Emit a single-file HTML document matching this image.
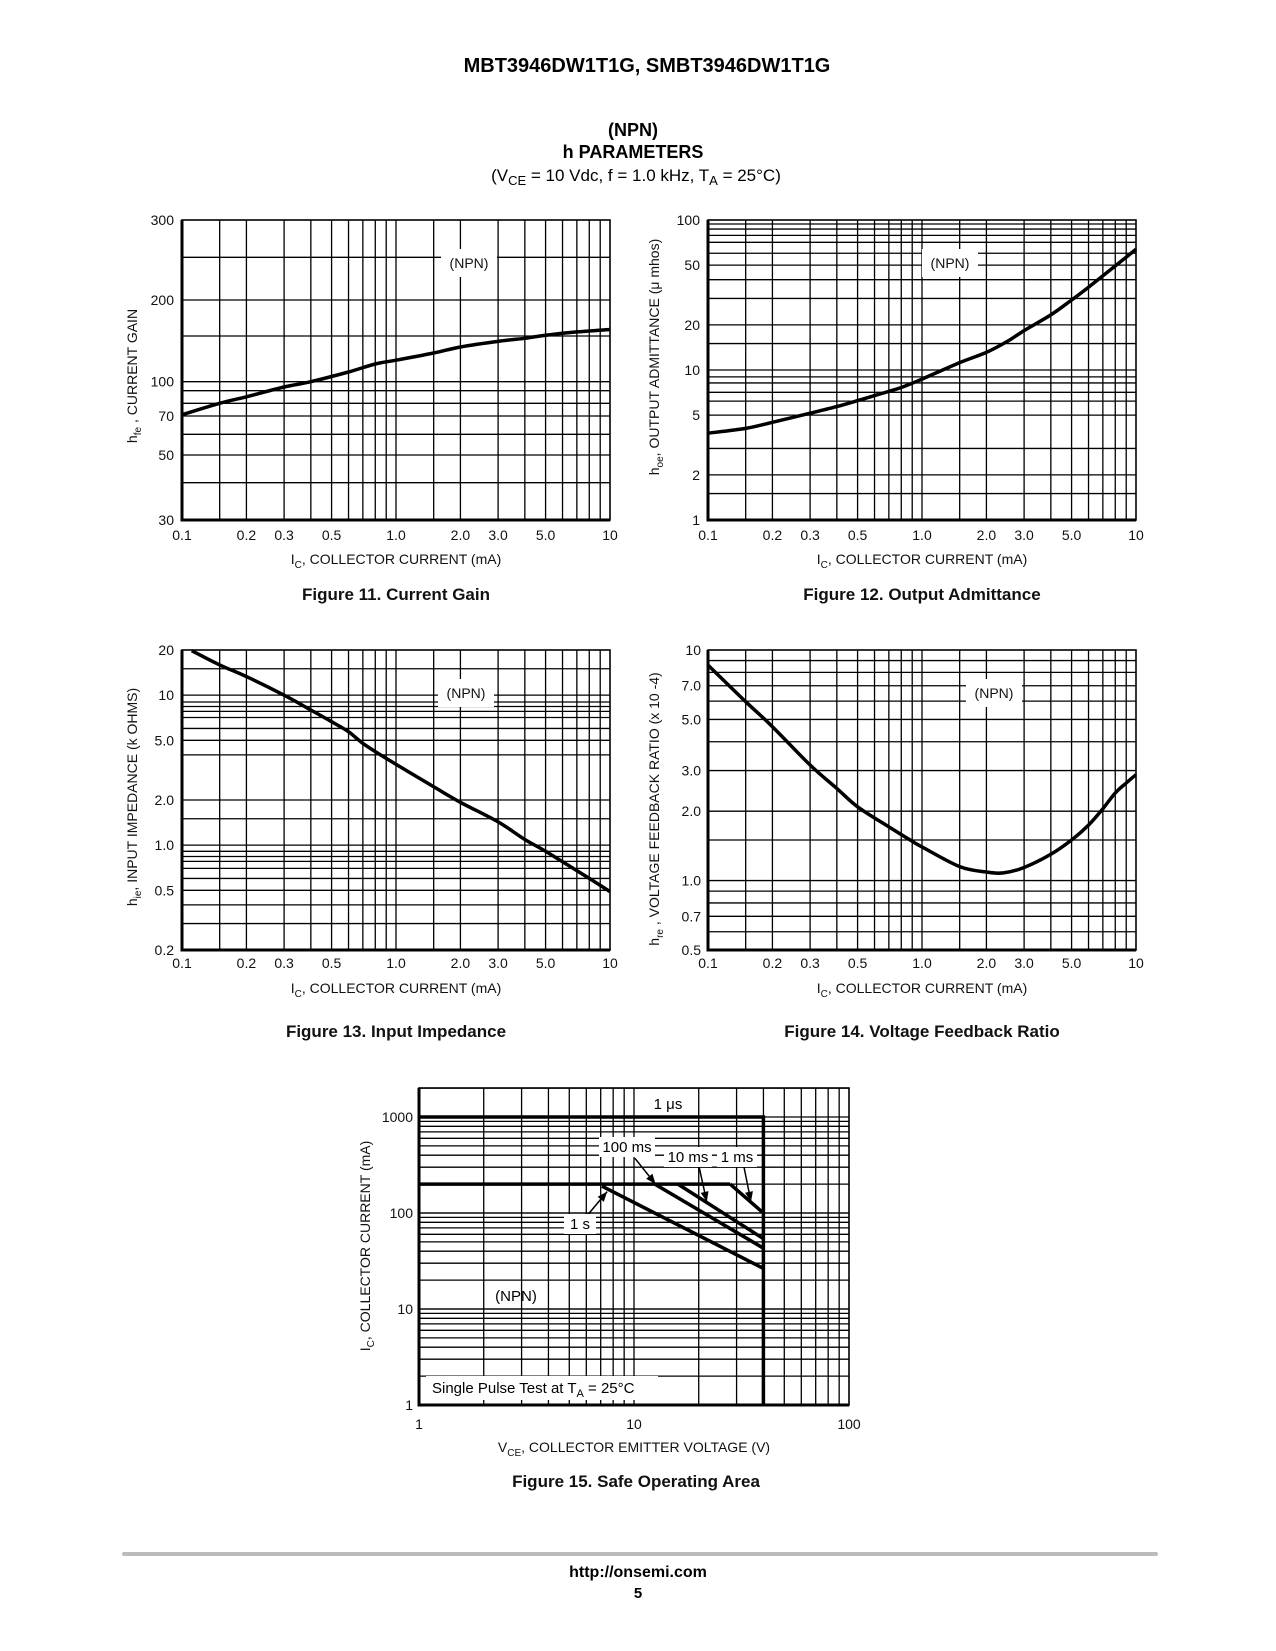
<!DOCTYPE html>
<html><head><meta charset="utf-8">
<style>
html,body{margin:0;padding:0;background:#fff;}
svg{display:block;font-family:"Liberation Sans",Arial,sans-serif;}
.tk{font-size:14px;fill:#111;}
.at{font-size:14px;fill:#111;}
.ft{font-size:17px;font-weight:bold;fill:#111;}
</style></head>
<body>
<svg id="page" width="1276" height="1651" viewBox="0 0 1276 1651" xmlns="http://www.w3.org/2000/svg">
<text x="647" y="72" text-anchor="middle" font-size="20" font-weight="bold">MBT3946DW1T1G, SMBT3946DW1T1G</text>
<text x="633" y="136" text-anchor="middle" font-size="18" font-weight="bold">(NPN)</text>
<text x="633" y="158" text-anchor="middle" font-size="18" font-weight="bold">h PARAMETERS</text>
<text x="636" y="181" text-anchor="middle" font-size="17">(V<tspan font-size="13" dy="4">CE</tspan><tspan dy="-4"> = 10 Vdc, f = 1.0 kHz, T</tspan><tspan font-size="13" dy="4">A</tspan><tspan dy="-4"> = 25°C)</tspan></text>

<g id="f11"></g>
<g id="f12"></g>
<g id="f13"></g>
<g id="f14"></g>
<g id="f15"></g>

<text class="ft" x="396" y="600" text-anchor="middle">Figure 11. Current Gain</text>
<text class="ft" x="922" y="600" text-anchor="middle">Figure 12. Output Admittance</text>
<text class="ft" x="396" y="1037" text-anchor="middle">Figure 13. Input Impedance</text>
<text class="ft" x="922" y="1037" text-anchor="middle">Figure 14. Voltage Feedback Ratio</text>
<text class="ft" x="636" y="1487" text-anchor="middle">Figure 15. Safe Operating Area</text>

<rect x="122" y="1552" width="1036" height="4" fill="#bbb" rx="2"/>
<text x="638" y="1577" text-anchor="middle" font-size="16" font-weight="bold">http://onsemi.com</text>
<text x="638" y="1598" text-anchor="middle" font-size="15" font-weight="bold">5</text>
</svg>

<script>
// ---------- data ----------
const xTickLabels = ["0.1","0.2","0.3","0.5","1.0","2.0","3.0","5.0","10"];
const xTickValues = [0.1,0.2,0.3,0.5,1,2,3,5,10];
const xGridValues = [0.15,0.2,0.3,0.4,0.5,0.6,0.7,0.8,0.9,1,1.5,2,3,4,5,6,7,8,9];

const f11Ic = [0.1,0.15,0.2,0.3,0.4,0.6,0.8,1,1.5,2,3,4,5,7,10];
const f11Hfe = [71,80,85,94,100,109,117,121,129,136,143,147,151,155,158];
const f11YTickValues = [300,200,100,70,50,30];
const f11YGrid = [250,200,150,100,90,80,70,60,50,40];

const f12Ic = [0.1,0.15,0.2,0.3,0.4,0.5,0.6,0.8,1,1.5,2,2.5,3,4,5,6,10];
const f12Hoe = [3.79,4.08,4.48,5.15,5.7,6.25,6.75,7.65,8.7,11.2,13.1,15.5,18.3,23.3,29.3,35.6,63.8];
const f12YTickValues = [100,50,20,10,5,2,1];
const f12YGrid = [94,87,79,71,60,50,40,30,20,15,10,9,8.2,7.1,6.2,5,3,2,1.5];

const f13Ic = [0.111,0.15,0.2,0.3,0.4,0.5,0.6,0.7,0.9,1.5,2,3,4,5,8,10];
const f13Hie = [19.8,15.9,13.3,10,7.96,6.65,5.71,4.77,3.79,2.45,1.93,1.43,1.09,0.91,0.6,0.49];
const f13YTickLabels = ["20","10","5.0","2.0","1.0","0.5","0.2"];
const f13YTickValues = [20,10,5,2,1,0.5,0.2];
const f13YGrid = [15,10,9,8.4,7.8,7.1,6,5,4,2,1.5,1,0.91,0.84,0.78,0.7,0.6,0.5,0.4,0.3];

const f14Ic = [0.1,0.15,0.2,0.3,0.4,0.5,0.7,0.9,1,1.5,2,2.4,3,4,5,6,7,8,9,10];
const f14Hre = [8.6,5.97,4.65,3.17,2.51,2.09,1.71,1.48,1.4,1.15,1.09,1.08,1.14,1.3,1.5,1.74,2.05,2.4,2.65,2.88];
const f14YTickLabels = ["10","7.0","5.0","3.0","2.0","1.0","0.7","0.5"];
const f14YTickValues = [10,7,5,3,2,1,0.7,0.5];
const f14YGrid = [9,8,7,6,5,4,3,2,1.5,1,0.9,0.8,0.7,0.6];

const soaXTickLabels = ["1","10","100"];
const soaXTickValues = [1,10,100];
const soaYTickLabels = ["1000","100","10","1"];
const soaYTickValues = [1000,100,10,1];
const soa1usV = [1,40,40];
const soa1usI = [1000,1000,1];
const soaDcLimitV = [1,28];
const soaDcLimitI = [200,200];
const soa1msV = [28,40];
const soa1msI = [200,100];
const soa10msV = [16,40];
const soa10msI = [200,54];
const soa100msV = [12.5,40];
const soa100msI = [200,43];
const soa1sV = [7.1,40];
const soa1sI = [190,26.5];
const soaArrowLabels = ["100 ms","10 ms","1 ms","1 s"];
const soaArrowTailV = [10.1,20.1,32.5,6.03];
const soaArrowTailI = [371,299,299,93];
const soaArrowTipV = [12.6,21.8,35,7.5];
const soaArrowTipI = [200,131,131,167];

// ---------- helpers ----------
const NS="http://www.w3.org/2000/svg";
function el(parent,tag,attrs,text){const e=document.createElementNS(NS,tag);for(const k in attrs)e.setAttribute(k,attrs[k]);if(text!==undefined)e.textContent=text;parent.appendChild(e);return e;}
function logScale(d0,d1,r0,r1){const a=Math.log10(d0),b=Math.log10(d1);return v=>r0+(Math.log10(v)-a)/(b-a)*(r1-r0);}
function knotScale(vals,pos){return v=>{const lv=Math.log10(v);for(let i=0;i<vals.length-1;i++){const a=Math.log10(vals[i]),b=Math.log10(vals[i+1]);if((lv<=a&&lv>=b)||i===vals.length-2){return pos[i]+(lv-a)/(b-a)*(pos[i+1]-pos[i]);}}return pos[0];};}
function smoothPath(pts){let d="M"+pts[0][0].toFixed(1)+","+pts[0][1].toFixed(1);for(let i=0;i<pts.length-1;i++){const p0=pts[Math.max(0,i-1)],p1=pts[i],p2=pts[i+1],p3=pts[Math.min(pts.length-1,i+2)];const c1=[p1[0]+(p2[0]-p0[0])/6,p1[1]+(p2[1]-p0[1])/6],c2=[p2[0]-(p3[0]-p1[0])/6,p2[1]-(p3[1]-p1[1])/6];d+=" C"+c1[0].toFixed(1)+","+c1[1].toFixed(1)+" "+c2[0].toFixed(1)+","+c2[1].toFixed(1)+" "+p2[0].toFixed(1)+","+p2[1].toFixed(1);}return d;}

function panel(g,c){
  c.xgrid.forEach(v=>{const x=c.sx(v);
    const l=el(g,"line",{x1:x,x2:x,y1:c.top,y2:c.bot,stroke:"#000","stroke-width":1.3});
    
    });
  c.ygrid.forEach(v=>{const y=c.sy(v);
    const l=el(g,"line",{x1:c.left,x2:c.right,y1:y,y2:y,stroke:"#000","stroke-width":1.3});
    
    });
  const fr=el(g,"rect",{x:c.left,y:c.top,width:c.right-c.left,height:c.bot-c.top,fill:"none",stroke:"#000","stroke-width":1.6});
  
  
  const ax=el(g,"path",{d:`M${c.left},${c.top} L${c.left},${c.bot} L${c.right},${c.bot}`,fill:"none",stroke:"#000","stroke-width":3});
  
  
  c.xticks.forEach((v,i)=>{
    const t=el(g,"text",{x:c.sx(v),y:c.xty,"text-anchor":"middle",class:"tk"},c.xlabels[i]);
    
    });
  c.yticks.forEach((v,i)=>{
    const t=el(g,"text",{x:c.ytx,y:c.sy(v)+5,"text-anchor":"end",class:"tk"},c.ylabels[i]);
    
    });
}
function npn(g,x,y){
  const r=el(g,"rect",{x:x-28,y:y-14,width:56,height:28,fill:"#fff"});
  
  
  const t=el(g,"text",{x:x,y:y+5,"text-anchor":"middle",class:"tk"},"(NPN)");
  
  
}
function curve(g,xs,ys,sx,sy,name){
  const p=el(g,"path",{d:smoothPath(xs.map((v,i)=>[sx(v),sy(ys[i])])),fill:"none",stroke:"#000","stroke-width":3.5,"stroke-linejoin":"round"});
  
  
}
function xTitle(g,x,y){
  const t=el(g,"text",{x:x,y:y,"text-anchor":"middle",class:"at"});
  
  
  t.innerHTML='I<tspan font-size="10" dy="4">C</tspan><tspan dy="-4">, COLLECTOR CURRENT (mA)</tspan>';
}
function yTitle(g,x,y,html){
  const t=el(g,"text",{x:0,y:0,"text-anchor":"middle",class:"at",transform:`translate(${x},${y}) rotate(-90)`});
  
  
  t.innerHTML=html;
}

(function(){
  const g=document.getElementById("f11");
  const L=182,R=610,T=220,B=520;
  const sx=logScale(0.1,10,L,R);
  const sy=knotScale([300,250,200,150,100,90,80,70,60,50,40,30],[220,257.3,300,336,381.7,390.7,403.3,416,434.3,455,482.7,520]);
  panel(g,{left:L,right:R,top:T,bot:B,sx,sy,xgrid:xGridValues,ygrid:f11YGrid,xticks:xTickValues,xlabels:xTickLabels,xty:540,yticks:f11YTickValues,ylabels:f11YTickValues.map(String),ytx:174});
  npn(g,469,263);
  curve(g,f11Ic,f11Hfe,sx,sy,"hfe-curve");
  xTitle(g,396,564);
  yTitle(g,137,376,'h<tspan font-size="10" dy="4">fe</tspan><tspan dy="-4"> , CURRENT GAIN</tspan>');
})();
(function(){
  const g=document.getElementById("f12");
  const L=708,R=1136,T=220,B=520;
  const sx=logScale(0.1,10,L,R), sy=logScale(100,1,T,B);
  panel(g,{left:L,right:R,top:T,bot:B,sx,sy,xgrid:xGridValues,ygrid:f12YGrid,xticks:xTickValues,xlabels:xTickLabels,xty:540,yticks:f12YTickValues,ylabels:f12YTickValues.map(String),ytx:700});
  npn(g,950,263);
  curve(g,f12Ic,f12Hoe,sx,sy,"hoe-curve");
  xTitle(g,922,564);
  yTitle(g,659,357,'h<tspan font-size="10" dy="4">oe</tspan><tspan dy="-4">, OUTPUT ADMITTANCE (μ mhos)</tspan>');
})();
(function(){
  const g=document.getElementById("f13");
  const L=182,R=610,T=650,B=950;
  const sx=logScale(0.1,10,L,R), sy=logScale(20,0.2,T,B);
  panel(g,{left:L,right:R,top:T,bot:B,sx,sy,xgrid:xGridValues,ygrid:f13YGrid,xticks:xTickValues,xlabels:xTickLabels,xty:968,yticks:f13YTickValues,ylabels:f13YTickLabels,ytx:174});
  npn(g,466,693);
  curve(g,f13Ic,f13Hie,sx,sy,"hie-curve");
  xTitle(g,396,993);
  yTitle(g,137,797,'h<tspan font-size="10" dy="4">ie</tspan><tspan dy="-4">, INPUT IMPEDANCE (k OHMS)</tspan>');
})();
(function(){
  const g=document.getElementById("f14");
  const L=708,R=1136,T=650,B=950;
  const sx=logScale(0.1,10,L,R), sy=logScale(10,0.5,T,B);
  panel(g,{left:L,right:R,top:T,bot:B,sx,sy,xgrid:xGridValues,ygrid:f14YGrid,xticks:xTickValues,xlabels:xTickLabels,xty:968,yticks:f14YTickValues,ylabels:f14YTickLabels,ytx:701});
  npn(g,994,693);
  curve(g,f14Ic,f14Hre,sx,sy,"hre-curve");
  xTitle(g,922,993);
  yTitle(g,659,809,'h<tspan font-size="10" dy="4">re</tspan><tspan dy="-4"> , VOLTAGE FEEDBACK RATIO (x 10 -4)</tspan>');
})();
(function(){
  const g=document.getElementById("f15");
  const L=419,R=849,T=1088,B=1405;
  const sx=logScale(1,100,L,R), sy=logScale(1,10,B,B-96);
  const xg=[],yg=[];
  [1,10].forEach(d=>{for(let k=2;k<=9;k++)xg.push(k*d);});xg.push(10);
  [1,10,100].forEach(d=>{for(let k=1;k<=10;k++)yg.push(k*d);});yg.push(2000);
  panel(g,{left:L,right:R,top:T,bot:B,sx,sy,xgrid:xg,ygrid:yg,xticks:soaXTickValues,xlabels:soaXTickLabels,xty:1429,yticks:soaYTickValues,ylabels:soaYTickLabels,ytx:413});
  function seg(vs,is,name){
    const p=el(g,"polyline",{points:vs.map((v,i)=>sx(v).toFixed(1)+","+sy(is[i]).toFixed(1)).join(" "),fill:"none",stroke:"#000","stroke-width":3.5});
    
    
  }
  seg(soa1usV,soa1usI,"limit-1us");
  seg(soaDcLimitV,soaDcLimitI,"limit-200ma");
  seg(soa1msV,soa1msI,"limit-1ms");
  seg(soa10msV,soa10msI,"limit-10ms");
  seg(soa100msV,soa100msI,"limit-100ms");
  seg(soa1sV,soa1sI,"limit-1s");
  const labPos=[[627,1147],[688,1157],[737,1157],[580,1224]];
  soaArrowLabels.forEach((lab,i)=>{
    const x1=sx(soaArrowTailV[i]),y1=sy(soaArrowTailI[i]),x2=sx(soaArrowTipV[i]),y2=sy(soaArrowTipI[i]);
    const a=Math.atan2(y2-y1,x2-x1);
    const ln=el(g,"line",{x1,y1,x2,y2,stroke:"#000","stroke-width":1.5});
    
    
    const h=el(g,"polygon",{points:`${x2},${y2} ${x2-10*Math.cos(a)+4*Math.sin(a)},${y2-10*Math.sin(a)-4*Math.cos(a)} ${x2-10*Math.cos(a)-4*Math.sin(a)},${y2-10*Math.sin(a)+4*Math.cos(a)}`,fill:"#000"});
    
    
  });
  const all=[["1 μs",668,1104]].concat(soaArrowLabels.map((l,i)=>[l,labPos[i][0],labPos[i][1]]));
  all.forEach(([t,x,y])=>{
    const w=t.length*8+8;
    const r=el(g,"rect",{x:x-w/2,y:y-10,width:w,height:20,fill:"#fff"});
    
    
    const tx=el(g,"text",{x:x,y:y+5,"text-anchor":"middle","font-size":15},t);
    
    
  });
  const n=el(g,"text",{x:516,y:1301,"text-anchor":"middle","font-size":15},"(NPN)");
  
  
  const sr=el(g,"rect",{x:426,y:1376,width:232,height:24,fill:"#fff"});
  
  
  const s=el(g,"text",{x:432,y:1393,"font-size":15});
  
  
  s.innerHTML='Single Pulse Test at T<tspan font-size="11" dy="4">A</tspan><tspan dy="-4"> = 25°C</tspan>';
  const xt=el(g,"text",{x:634,y:1452,"text-anchor":"middle",class:"at"});
  
  
  xt.innerHTML='V<tspan font-size="10" dy="4">CE</tspan><tspan dy="-4">, COLLECTOR EMITTER VOLTAGE (V)</tspan>';
  yTitle(g,370,1246,'I<tspan font-size="10" dy="4">C</tspan><tspan dy="-4">, COLLECTOR CURRENT (mA)</tspan>');
})();
</script>
</body></html>
